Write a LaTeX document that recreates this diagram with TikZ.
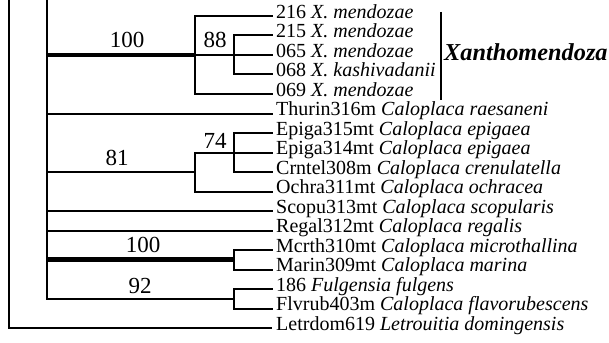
\documentclass[tikz,border=0pt]{standalone}
\usepackage{fontspec}
\setmainfont{Liberation Serif}
\begin{document}
\begin{tikzpicture}[x=1pt,y=-1pt,
  br/.style={line width=2pt,line cap=rect},
  thk/.style={line width=4.8pt},
  tip/.style={anchor=mid west,inner sep=0pt,font=\fontsize{20}{20}\selectfont},
  bs/.style={anchor=base,inner sep=0pt,font=\fontsize{23}{23}\selectfont}]
\useasboundingbox (0,0) rectangle (609,342);
% tip coordinates
\foreach \n/\i in {t1/0,t2/1,t3/2,t4/3,t5/4,t6/5,t7/6,t8/7,t9/8,t10/9,t11/10,t12/11,t13/12,t14/13,t15/14,t16/15,t17/16}
  \coordinate (\n) at (272,16+19.5*\i);
% tip labels
\node[tip] (l1) at (276,16) {216 \textit{X. mendozae}};
\node[tip] (l2) at (276,35.5) {215 \textit{X. mendozae}};
\node[tip] (l3) at (276,55) {065 \textit{X. mendozae}};
\node[tip] (l4) at (276,74.5) {068 \textit{X. kashivadanii}};
\node[tip] (l5) at (276,94) {069 \textit{X. mendozae}};
\node[tip] (l6) at (276,113.5) {Thurin316m \textit{Caloplaca raesaneni}};
\node[tip] (l7) at (276,133) {Epiga315mt \textit{Caloplaca epigaea}};
\node[tip] (l8) at (276,152.5) {Epiga314mt \textit{Caloplaca epigaea}};
\node[tip] (l9) at (276,172) {Crntel308m \textit{Caloplaca crenulatella}};
\node[tip] (l10) at (276,191.5) {Ochra311mt \textit{Caloplaca ochracea}};
\node[tip] (l11) at (276,211) {Scopu313mt \textit{Caloplaca scopularis}};
\node[tip] (l12) at (276,230.5) {Regal312mt \textit{Caloplaca regalis}};
\node[tip] (l13) at (276,250) {Mcrth310mt \textit{Caloplaca microthallina}};
\node[tip] (l14) at (276,269.5) {Marin309mt \textit{Caloplaca marina}};
\node[tip] (l15) at (276,289) {186 \textit{Fulgensia fulgens}};
\node[tip] (l16) at (276,308.5) {Flvrub403m \textit{Caloplaca flavorubescens}};
\node[tip] (l17) at (276,328) {Letrdom619 \textit{Letrouitia domingensis}};
% internal coordinates
\coordinate (rtop) at (9,0);
\coordinate (r) at (9,328);
\coordinate (atop) at (47,0);
\coordinate (abot) at (47,298.75);
\coordinate (x1) at (195,16);
\coordinate (x2) at (195,94);
\coordinate (xm) at (195,55);
\coordinate (xa) at (47,55);
\coordinate (y1) at (234,35.5);
\coordinate (y2) at (234,74.5);
\coordinate (c1) at (195,152.5);
\coordinate (c2) at (195,191.5);
\coordinate (cm) at (195,172);
\coordinate (ca) at (47,172);
\coordinate (d1) at (234,133);
\coordinate (d2) at (234,172);
\coordinate (e1) at (234,250);
\coordinate (e2) at (234,269.5);
\coordinate (em) at (234,259.75);
\coordinate (ea) at (47,259.75);
\coordinate (f1) at (234,289);
\coordinate (f2) at (234,308.5);
\coordinate (fa) at (47,298.75);
\coordinate (fm) at (234,298.75);
\coordinate (s6) at (47,113.5);
\coordinate (s11) at (47,211);
\coordinate (s12) at (47,230.5);
% root
\draw[br,line cap=butt] (rtop) -- (r) -- (t17);
\draw[br,line cap=butt] (atop) -- (abot);
% Xanthomendoza clade
\draw[thk] (xa) -- (xm);
\draw[br] (x1) -- (x2);
\draw[br] (x1) -- (t1);
\draw[br] (x2) -- (t5);
\draw[br] (xm) -- (t3);
\draw[br] (y1) -- (y2);
\draw[br] (y1) -- (t2);
\draw[br] (y2) -- (t4);
% single tips
\draw[br] (s6) -- (t6);
\draw[br] (s11) -- (t11);
\draw[br] (s12) -- (t12);
% 81 clade
\draw[br] (ca) -- (cm);
\draw[br] (c1) -- (c2);
\draw[br] (c2) -- (t10);
\draw[br] (c1) -- (t8);
\draw[br] (d1) -- (d2);
\draw[br] (d1) -- (t7);
\draw[br] (d2) -- (t9);
% 100 clade
\draw[thk] (ea) -- (em);
\draw[br] (e1) -- (e2);
\draw[br] (e1) -- (t13);
\draw[br] (e2) -- (t14);
% 92 clade
\draw[br] (fa) -- (fm);
\draw[br] (f1) -- (f2);
\draw[br] (f1) -- (t15);
\draw[br] (f2) -- (t16);
% support values
\node[bs] (b1) at (127,48) {100};
\node[bs] (b2) at (215,48) {88};
\node[bs] (b3) at (215,148) {74};
\node[bs] (b4) at (117,165) {81};
\node[bs] (b5) at (143,252) {100};
\node[bs] (b6) at (140,293) {92};
% Xanthomendoza bar
\coordinate (xb1) at (441,12);
\coordinate (xb2) at (441,100);
\draw[br,line cap=butt] (xb1) -- (xb2);
\node[anchor=mid west,inner sep=0pt,font=\fontsize{24.3}{24.3}\selectfont\bfseries\itshape] (xn) at (444,58) {Xanthomendoza};
\end{tikzpicture}
\end{document}
